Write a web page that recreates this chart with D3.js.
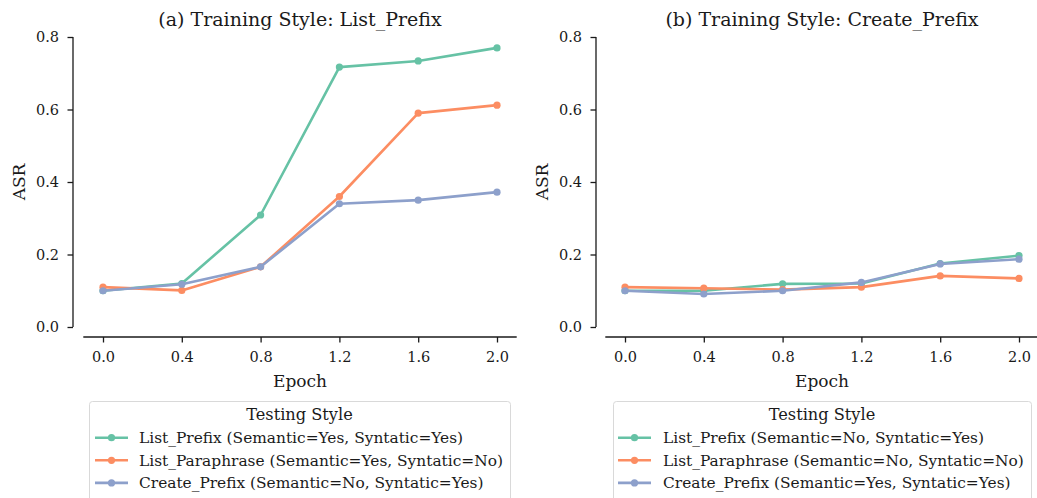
<!DOCTYPE html>
<html><head><meta charset="utf-8">
<script src="https://cdn.jsdelivr.net/npm/d3@7"></script>
<style>body{margin:0;background:#fff}svg{display:block}text{font-family:"DejaVu Serif",serif;fill:#1a1a1a}</style>
</head><body>
<svg id="c" width="1037" height="498"></svg>
<script>
const epochs = [0.0, 0.4, 0.8, 1.2, 1.6, 2.0];
const xTicks = [0.0, 0.4, 0.8, 1.2, 1.6, 2.0];
const yTicks = [0.0, 0.2, 0.4, 0.6, 0.8];
const seriesNames = ["List_Prefix", "List_Paraphrase", "Create_Prefix"];
const colors = ["#66c2a5", "#fc8d62", "#8da0cb"];

// Panel (a): Training Style List_Prefix
const aListPrefix = [0.100, 0.120, 0.309, 0.717, 0.734, 0.770];
const aListParaphrase = [0.110, 0.101, 0.166, 0.360, 0.590, 0.612];
const aCreatePrefix = [0.100, 0.118, 0.166, 0.340, 0.350, 0.372];
const aLegend = ["List_Prefix (Semantic=Yes, Syntatic=Yes)", "List_Paraphrase (Semantic=Yes, Syntatic=No)", "Create_Prefix (Semantic=No, Syntatic=Yes)"];

// Panel (b): Training Style Create_Prefix
const bListPrefix = [0.100, 0.100, 0.119, 0.120, 0.175, 0.197];
const bListParaphrase = [0.110, 0.107, 0.103, 0.110, 0.141, 0.134];
const bCreatePrefix = [0.100, 0.091, 0.100, 0.123, 0.174, 0.187];
const bLegend = ["List_Prefix (Semantic=No, Syntatic=Yes)", "List_Paraphrase (Semantic=No, Syntatic=No)", "Create_Prefix (Semantic=Yes, Syntatic=Yes)"];

const panels = [
  {title: "(a) Training Style: List_Prefix", series: [aListPrefix, aListParaphrase, aCreatePrefix], legend: aLegend,
   x0: 103, yAxisX: 73, legendX: 89, legendW: 421, textX: 139, handleX: 95},
  {title: "(b) Training Style: Create_Prefix", series: [bListPrefix, bListParaphrase, bCreatePrefix], legend: bLegend,
   x0: 625, yAxisX: 596, legendX: 613, legendW: 418, textX: 663, handleX: 618}
];

const svg = d3.select("#c");
const xSpan = 394;
const yTop = 37, yBot = 327, xAxisY = 337;

panels.forEach(p => {
  const x = d3.scaleLinear().domain([0, 2]).range([p.x0, p.x0 + xSpan]);
  const y = d3.scaleLinear().domain([0, 0.8]).range([yBot, yTop]);
  const g = svg.append("g");

  // y axis (offset spine, trimmed)
  const ya = g.append("g").attr("transform", `translate(${p.yAxisX},0)`)
    .call(d3.axisLeft(y).tickValues(yTicks).tickFormat(d3.format(".1f")).tickSize(5.5).tickPadding(8.5));
  ya.select(".domain").attr("stroke", "#1a1a1a").attr("stroke-width", 1.3).attr("d", `M0,${y(0)}V${y(0.8)}`);
  ya.selectAll(".tick line").attr("stroke", "#1a1a1a").attr("stroke-width", 1.3);
  ya.selectAll(".tick text").attr("font-size", 14.5).attr("font-family", "DejaVu Serif").attr("fill", "#1a1a1a");

  // x axis
  const xa = g.append("g").attr("transform", `translate(0,${xAxisY})`)
    .call(d3.axisBottom(x).tickValues(xTicks).tickFormat(d3.format(".1f")).tickSize(5.5).tickPadding(9));
  xa.select(".domain").attr("stroke", "#1a1a1a").attr("stroke-width", 1.3).attr("d", `M${x(-0.1)},0H${x(2.1)}`);
  xa.selectAll(".tick line").attr("stroke", "#1a1a1a").attr("stroke-width", 1.3);
  xa.selectAll(".tick text").attr("font-size", 14.5).attr("font-family", "DejaVu Serif").attr("fill", "#1a1a1a");

  // labels
  g.append("text").attr("x", x(1)).attr("y", 26).attr("text-anchor", "middle").attr("font-size", 19).text(p.title);
  g.append("text").attr("x", x(1)).attr("y", 387).attr("text-anchor", "middle").attr("font-size", 17).text("Epoch");
  g.append("text").attr("transform", `translate(${p.yAxisX - 48.5},${(yTop + yBot) / 2}) rotate(-90)`)
    .attr("text-anchor", "middle").attr("font-size", 17).text("ASR");

  // lines
  const line = d3.line().x((d, i) => x(epochs[i])).y(d => y(d));
  p.series.forEach((s, k) => {
    g.append("path").datum(s).attr("d", line).attr("fill", "none")
      .attr("stroke", colors[k]).attr("stroke-width", 2.6).attr("stroke-linejoin", "round").attr("stroke-linecap", "round");
    g.selectAll(null).data(s).enter().append("circle")
      .attr("cx", (d, i) => x(epochs[i])).attr("cy", d => y(d)).attr("r", 3.6).attr("fill", colors[k]);
  });

  // legend
  const lg = g.append("g");
  lg.append("rect").attr("x", p.legendX + 0.5).attr("y", 401.5).attr("width", p.legendW).attr("height", 110)
    .attr("rx", 3).attr("fill", "#fff").attr("stroke", "#d9d9d9").attr("stroke-width", 1);
  lg.append("text").attr("x", p.legendX + p.legendW / 2).attr("y", 420).attr("text-anchor", "middle")
    .attr("font-size", 16.2).text("Testing Style");
  p.legend.forEach((t, k) => {
    const yy = 437.7 + k * 22.6;
    lg.append("line").attr("x1", p.handleX).attr("x2", p.handleX + 33).attr("y1", yy).attr("y2", yy)
      .attr("stroke", colors[k]).attr("stroke-width", 2.6);
    lg.append("circle").attr("cx", p.handleX + 16.5).attr("cy", yy).attr("r", 3.6).attr("fill", colors[k]);
    lg.append("text").attr("x", p.textX).attr("y", yy + 5.5).attr("font-size", 15.4).text(t);
  });
});
</script>
</body></html>
